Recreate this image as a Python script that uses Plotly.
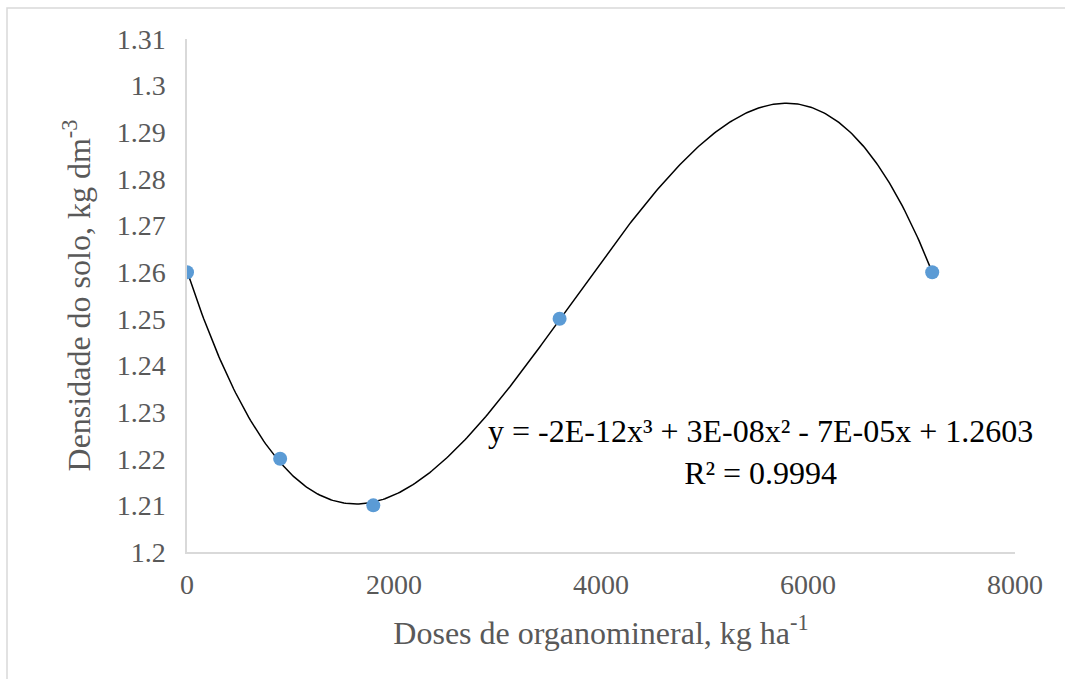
import numpy as np
import plotly.graph_objects as go

# Data
doses = [0, 900, 1800, 3600, 7200]
densidade = [1.26, 1.22, 1.21, 1.25, 1.26]

x_tickvals = [0, 2000, 4000, 6000, 8000]
x_ticktext = ["0", "2000", "4000", "6000", "8000"]
y_tickvals = [1.2, 1.21, 1.22, 1.23, 1.24, 1.25, 1.26, 1.27, 1.28, 1.29, 1.3, 1.31]
y_ticktext = ["1.2", "1.21", "1.22", "1.23", "1.24", "1.25", "1.26", "1.27", "1.28", "1.29", "1.3", "1.31"]

equation_text = "y = -2E-12x³ + 3E-08x² - 7E-05x + 1.2603<br>R² = 0.9994"

# Polynomial (order 3) trendline fitted to the data, as in the spreadsheet
coef = np.polyfit(doses, densidade, 3)
xs = np.linspace(min(doses), max(doses), 400)
ys = np.polyval(coef, xs)

FONT = "'Times New Roman', 'Liberation Serif', 'DejaVu Serif', serif"
GRAY = "#595959"
AXIS = "#d9d9d9"

fig = go.Figure()
fig.add_trace(go.Scatter(x=xs, y=ys, mode="lines",
                         line=dict(color="black", width=1.5),
                         hoverinfo="skip", showlegend=False))
fig.add_trace(go.Scatter(x=doses, y=densidade, mode="markers",
                         marker=dict(color="#5b9bd5", size=14),
                         showlegend=False))

fig.add_annotation(x=5540, y=1.2215, xref="x", yref="y", text=equation_text,
                   showarrow=False, align="center",
                   font=dict(family=FONT, size=32, color="black"))

# chart-area border
fig.add_shape(type="rect", xref="paper", yref="paper",
              x0=-0.2174, y0=-0.3, x1=1.1, y1=1.0604,
              line=dict(color=AXIS, width=1.5), layer="below")

fig.update_layout(
    width=1065, height=679,
    margin=dict(l=187, r=50, t=39, b=127),
    paper_bgcolor="white", plot_bgcolor="white",
    font=dict(family=FONT, size=27, color=GRAY),
    xaxis=dict(range=[0, 8000], tickvals=x_tickvals, ticktext=x_ticktext,
               showgrid=False, zeroline=False, showline=True,
               linecolor=AXIS, linewidth=1.5,
               ticks="outside", ticklen=7, tickcolor="rgba(0,0,0,0)",
               tickfont=dict(family=FONT, size=28, color=GRAY),
               title=dict(text="Doses de organomineral, kg ha<sup>-1</sup>",
                          font=dict(family=FONT, size=32, color=GRAY),
                          standoff=22)),
    yaxis=dict(range=[1.2, 1.31], tickvals=y_tickvals, ticktext=y_ticktext,
               showgrid=False, zeroline=False, showline=True,
               linecolor=AXIS, linewidth=1.5,
               ticks="outside", ticklen=14, tickcolor="rgba(0,0,0,0)",
               tickfont=dict(family=FONT, size=28, color=GRAY),
               title=dict(text="Densidade do solo, kg dm<sup>-3</sup>",
                          font=dict(family=FONT, size=32, color=GRAY),
                          standoff=16)),
)

fig.write_html("out.html", config={"displayModeBar": False})
